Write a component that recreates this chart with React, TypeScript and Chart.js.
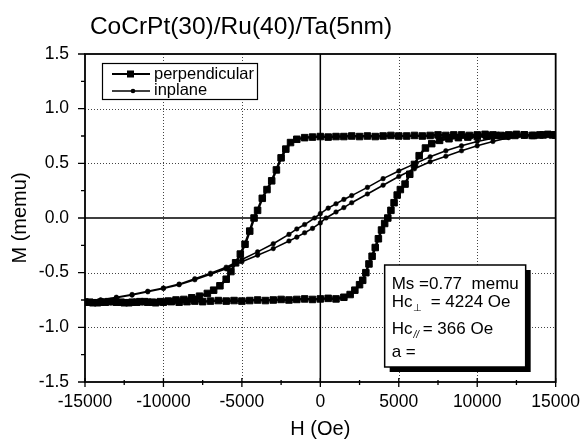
import React, { useEffect, useRef } from "react";
import { Chart, registerables } from "chart.js";

Chart.register(...registerables);

const TITLE = "CoCrPt(30)/Ru(40)/Ta(5nm)";
const X_LABEL = "H (Oe)";
const Y_LABEL = "M (memu)";
const SERIES_NAMES = ["perpendicular", "inplane"];
const X_TICKS = [-15000, -10000, -5000, 0, 5000, 10000, 15000];
const Y_TICKS = [-1.5, -1.0, -0.5, 0.0, 0.5, 1.0, 1.5];
const INFO_MS = "Ms =0.77  memu";
const INFO_HC_PERP = "= 4224 Oe";
const INFO_HC_PAR = "= 366 Oe";
const INFO_A = "a =";

// perpendicular loop, descending branch (+H -> -H)
const perpDownH = [15000, 14500, 14000, 13500, 13000, 12500, 12000, 11500, 11000, 10500, 10000, 9500, 9000, 8500, 8000, 7500, 7000, 6500, 6000, 5500, 5000, 4500, 4000, 3500, 3000, 2500, 2000, 1500, 1000, 500, 0, -500, -1000, -1500, -1900, -2200, -2500, -2800, -3100, -3400, -3700, -4000, -4224, -4500, -4800, -5100, -5400, -5700, -6000, -6400, -6800, -7200, -7700, -8200, -8700, -9200, -9700, -10200, -10700, -11200, -11700, -12200, -12700, -13200, -13700, -14200, -14700, -15000];
const perpDownM = [0.76, 0.765, 0.76, 0.755, 0.76, 0.765, 0.76, 0.755, 0.76, 0.765, 0.76, 0.755, 0.76, 0.76, 0.755, 0.76, 0.755, 0.75, 0.755, 0.75, 0.75, 0.755, 0.75, 0.745, 0.75, 0.745, 0.75, 0.745, 0.745, 0.74, 0.745, 0.74, 0.735, 0.72, 0.69, 0.63, 0.55, 0.44, 0.34, 0.26, 0.18, 0.07, 0.0, -0.12, -0.24, -0.33, -0.41, -0.49, -0.56, -0.62, -0.66, -0.69, -0.715, -0.73, -0.745, -0.75, -0.76, -0.765, -0.77, -0.765, -0.77, -0.775, -0.77, -0.765, -0.77, -0.775, -0.77, -0.77];

// perpendicular loop, ascending branch (-H -> +H)
const perpUpH = [-15000, -14500, -14000, -13500, -13000, -12500, -12000, -11500, -11000, -10500, -10000, -9500, -9000, -8500, -8000, -7500, -7000, -6500, -6000, -5500, -5000, -4500, -4000, -3500, -3000, -2500, -2000, -1500, -1000, -500, 0, 500, 1000, 1500, 1900, 2200, 2500, 2700, 2900, 3100, 3300, 3500, 3700, 3900, 4100, 4300, 4500, 4700, 4900, 5100, 5400, 5700, 6000, 6300, 6700, 7100, 7600, 8200, 8800, 9400, 10000, 10600, 11200, 11800, 12400, 13000, 13600, 14200, 14800, 15000];
const perpUpM = [-0.77, -0.775, -0.77, -0.765, -0.77, -0.775, -0.77, -0.765, -0.77, -0.775, -0.77, -0.765, -0.77, -0.765, -0.76, -0.765, -0.76, -0.755, -0.76, -0.755, -0.76, -0.755, -0.75, -0.755, -0.75, -0.745, -0.75, -0.745, -0.74, -0.745, -0.74, -0.735, -0.74, -0.725, -0.70, -0.66, -0.61, -0.57, -0.50, -0.42, -0.35, -0.27, -0.19, -0.11, -0.05, 0.0, 0.07, 0.14, 0.21, 0.26, 0.31, 0.40, 0.49, 0.57, 0.64, 0.68, 0.71, 0.725, 0.735, 0.74, 0.745, 0.75, 0.755, 0.75, 0.755, 0.76, 0.755, 0.76, 0.76, 0.76];

// in-plane loop, descending branch
const ipDownH = [15000, 14000, 13000, 12000, 11000, 10000, 9000, 8000, 7000, 6000, 5000, 4000, 3000, 2000, 1500, 1000, 500, 0, -366, -1000, -1500, -2000, -3000, -4000, -5000, -6000, -7000, -8000, -9000, -10000, -11000, -12000, -13000, -14000, -15000];
const ipDownM = [0.76, 0.755, 0.75, 0.745, 0.73, 0.70, 0.66, 0.615, 0.56, 0.495, 0.43, 0.36, 0.28, 0.205, 0.17, 0.13, 0.09, 0.04, 0.0, -0.06, -0.10, -0.15, -0.235, -0.31, -0.38, -0.45, -0.505, -0.555, -0.605, -0.64, -0.67, -0.70, -0.725, -0.75, -0.765];

// in-plane loop, ascending branch
const ipUpH = [-15000, -14000, -13000, -12000, -11000, -10000, -9000, -8000, -7000, -6000, -5000, -4000, -3000, -2000, -1500, -1000, -500, 0, 366, 1000, 1500, 2000, 3000, 4000, 5000, 6000, 7000, 8000, 9000, 10000, 11000, 12000, 13000, 14000, 15000];
const ipUpM = [-0.765, -0.75, -0.73, -0.705, -0.675, -0.645, -0.61, -0.565, -0.515, -0.465, -0.40, -0.34, -0.28, -0.21, -0.175, -0.135, -0.095, -0.045, 0.0, 0.055, 0.095, 0.14, 0.22, 0.30, 0.38, 0.45, 0.515, 0.565, 0.615, 0.66, 0.70, 0.735, 0.75, 0.755, 0.76];

const FONT = '"Liberation Sans", Arial, Helvetica, sans-serif';

const toPts = (h: number[], m: number[]) => h.map((v, i) => ({ x: v, y: m[i] }));

const decorPlugin = {
  id: "decor",
  beforeDatasetsDraw(chart: any) {
    const { ctx, chartArea, scales } = chart;
    const { left, right, top, bottom } = chartArea;
    const xs = scales.x;
    const ys = scales.y;
    ctx.save();
    ctx.strokeStyle = "#444";
    ctx.lineWidth = 1;
    ctx.setLineDash([1, 2]);
    for (const t of xs.ticks) {
      if (t.value === 0 || t.value === xs.min || t.value === xs.max) continue;
      const px = Math.round(xs.getPixelForValue(t.value)) + 0.5;
      ctx.beginPath();
      ctx.moveTo(px, top);
      ctx.lineTo(px, bottom);
      ctx.stroke();
    }
    for (const t of ys.ticks) {
      if (t.value === 0 || t.value === ys.min || t.value === ys.max) continue;
      const py = Math.round(ys.getPixelForValue(t.value)) + 0.5;
      ctx.beginPath();
      ctx.moveTo(left, py);
      ctx.lineTo(right, py);
      ctx.stroke();
    }
    ctx.setLineDash([]);
    ctx.strokeStyle = "#000";
    ctx.lineWidth = 1.5;
    const x0 = xs.getPixelForValue(0);
    const y0 = ys.getPixelForValue(0);
    ctx.beginPath();
    ctx.moveTo(x0, top);
    ctx.lineTo(x0, bottom);
    ctx.moveTo(left, y0);
    ctx.lineTo(right, y0);
    ctx.stroke();
    ctx.restore();
  },
  afterDatasetsDraw(chart: any) {
    const { ctx, chartArea, scales } = chart;
    const { left, right, top, bottom } = chartArea;
    const xs = scales.x;
    const ys = scales.y;
    ctx.save();
    ctx.strokeStyle = "#000";
    ctx.lineWidth = 1.8;
    ctx.strokeRect(left, top, right - left, bottom - top);
    ctx.lineWidth = 1.3;
    const xt = xs.ticks.map((t: any) => t.value);
    ctx.beginPath();
    for (let i = 0; i < xt.length; i++) {
      const px = xs.getPixelForValue(xt[i]);
      ctx.moveTo(px, bottom - 4);
      ctx.lineTo(px, bottom + 5);
      if (i < xt.length - 1) {
        const pm = xs.getPixelForValue((xt[i] + xt[i + 1]) / 2);
        ctx.moveTo(pm, bottom - 2);
        ctx.lineTo(pm, bottom + 3);
      }
    }
    const yt = ys.ticks.map((t: any) => t.value);
    for (let i = 0; i < yt.length; i++) {
      const py = ys.getPixelForValue(yt[i]);
      ctx.moveTo(left - 7, py);
      ctx.lineTo(left, py);
      if (i < yt.length - 1) {
        const pm = ys.getPixelForValue((yt[i] + yt[i + 1]) / 2);
        ctx.moveTo(left - 4, pm);
        ctx.lineTo(left, pm);
      }
    }
    ctx.stroke();
    ctx.restore();
  },
  afterDraw(chart: any) {
    const { ctx, chartArea } = chart;
    const { left, right, top, bottom } = chartArea;
    ctx.save();
    ctx.fillStyle = "#000";
    // title
    ctx.font = `24.5px ${FONT}`;
    ctx.textAlign = "center";
    ctx.textBaseline = "alphabetic";
    ctx.fillText(TITLE, 241, 34);

    // legend
    const lx = left + 17;
    const ly = top + 9;
    const lw = 155;
    const lh = 36;
    ctx.fillStyle = "#fff";
    ctx.fillRect(lx, ly, lw, lh);
    ctx.strokeStyle = "#000";
    ctx.lineWidth = 1.2;
    ctx.strokeRect(lx + 0.5, ly + 0.5, lw, lh);
    ctx.fillStyle = "#000";
    const r1 = ly + 11;
    const r2 = ly + 28;
    ctx.lineWidth = 2.2;
    ctx.beginPath();
    ctx.moveTo(lx + 10, r1);
    ctx.lineTo(lx + 48, r1);
    ctx.stroke();
    ctx.fillRect(lx + 25, r1 - 3.5, 7, 7);
    ctx.lineWidth = 1.5;
    ctx.beginPath();
    ctx.moveTo(lx + 10, r2);
    ctx.lineTo(lx + 48, r2);
    ctx.stroke();
    ctx.beginPath();
    ctx.arc(lx + 31, r2, 2.3, 0, Math.PI * 2);
    ctx.fill();
    ctx.font = `16.5px ${FONT}`;
    ctx.textAlign = "left";
    ctx.textBaseline = "alphabetic";
    ctx.fillText(SERIES_NAMES[0], lx + 52, r1 + 5);
    ctx.fillText(SERIES_NAMES[1], lx + 52, r2 + 4);

    // info box
    const bx = right - 171;
    const by = bottom - 117;
    const bw = 141;
    const bh = 102;
    ctx.fillStyle = "#000";
    ctx.fillRect(bx + 5, by + 5, bw, bh);
    ctx.fillStyle = "#fff";
    ctx.fillRect(bx, by, bw, bh);
    ctx.strokeStyle = "#000";
    ctx.lineWidth = 1.5;
    ctx.strokeRect(bx, by, bw, bh);
    ctx.fillStyle = "#000";
    ctx.font = `17px ${FONT}`;
    const tx = bx + 7;
    ctx.fillText(INFO_MS, tx, by + 24);
    ctx.fillText("Hc", tx, by + 42);
    const w = ctx.measureText("Hc").width;
    ctx.font = `10px ${FONT}`;
    ctx.fillText("\u22A5", tx + w + 1, by + 46);
    ctx.font = `17px ${FONT}`;
    ctx.fillText(INFO_HC_PERP, bx + 46, by + 42);
    ctx.fillText("Hc", tx, by + 69);
    ctx.font = `italic 10px ${FONT}`;
    ctx.fillText("//", tx + w + 1, by + 73);
    ctx.font = `17px ${FONT}`;
    ctx.fillText(INFO_HC_PAR, bx + 38, by + 69);
    ctx.fillText(INFO_A, tx, by + 92);
    ctx.restore();
  },
};

export default function App() {
  const ref = useRef<HTMLCanvasElement | null>(null);
  useEffect(() => {
    document.body.style.margin = "0";
    const canvas = ref.current;
    if (!canvas) return;
    const chart = new Chart(canvas, {
      type: "scatter",
      data: {
        datasets: [
          {
            label: SERIES_NAMES[0],
            data: [...toPts(perpDownH, perpDownM), ...toPts(perpUpH, perpUpM)],
            showLine: true,
            borderColor: "#000",
            backgroundColor: "#000",
            borderWidth: 2.5,
            pointStyle: "rect",
            pointRadius: 4.6,
            pointBorderWidth: 1,
            pointBorderColor: "#000",
            pointBackgroundColor: "#000",
          },
          {
            label: SERIES_NAMES[1],
            data: [...toPts(ipDownH, ipDownM), ...toPts(ipUpH, ipUpM)],
            showLine: true,
            borderColor: "#000",
            backgroundColor: "#000",
            borderWidth: 1.6,
            pointStyle: "circle",
            pointRadius: 2.3,
            pointBorderWidth: 0.5,
            pointBackgroundColor: "#000",
          },
        ],
      } as any,
      options: {
        animation: false,
        responsive: false,
        devicePixelRatio: 1,
        layout: { padding: { left: 0, right: 24, top: 54, bottom: 0 } },
        plugins: {
          legend: { display: false },
          title: { display: false },
          tooltip: { enabled: false },
        },
        scales: {
          x: {
            type: "linear",
            min: -15000,
            max: 15000,
            afterBuildTicks: (s: any) => {
              s.ticks = X_TICKS.map((v) => ({ value: v }));
            },
            afterFit: (s: any) => {
              s.height = 63;
            },
            ticks: {
              color: "#000",
              font: { family: FONT, size: 17.5 },
              padding: 2,
              maxRotation: 0,
              autoSkip: false,
              callback: (v: any) => String(v),
            },
            grid: { display: false },
            border: { display: false },
            title: {
              display: true,
              text: X_LABEL,
              color: "#000",
              font: { family: FONT, size: 20 },
              padding: { top: 0, bottom: 4 },
            },
          },
          y: {
            type: "linear",
            min: -1.5,
            max: 1.5,
            afterBuildTicks: (s: any) => {
              s.ticks = Y_TICKS.map((v) => ({ value: v }));
            },
            afterFit: (s: any) => {
              s.width = 85;
            },
            ticks: {
              color: "#000",
              font: { family: FONT, size: 17.5 },
              padding: 8,
              autoSkip: false,
              callback: (v: any) => Number(v).toFixed(1),
            },
            grid: { display: false },
            border: { display: false },
            title: {
              display: true,
              text: Y_LABEL,
              color: "#000",
              font: { family: FONT, size: 20 },
              padding: { top: 8, bottom: 0 },
            },
          },
        },
      } as any,
      plugins: [decorPlugin],
    });
    return () => chart.destroy();
  }, []);
  return <canvas ref={ref} width={582} height={445} style={{ display: "block" }} />;
}
